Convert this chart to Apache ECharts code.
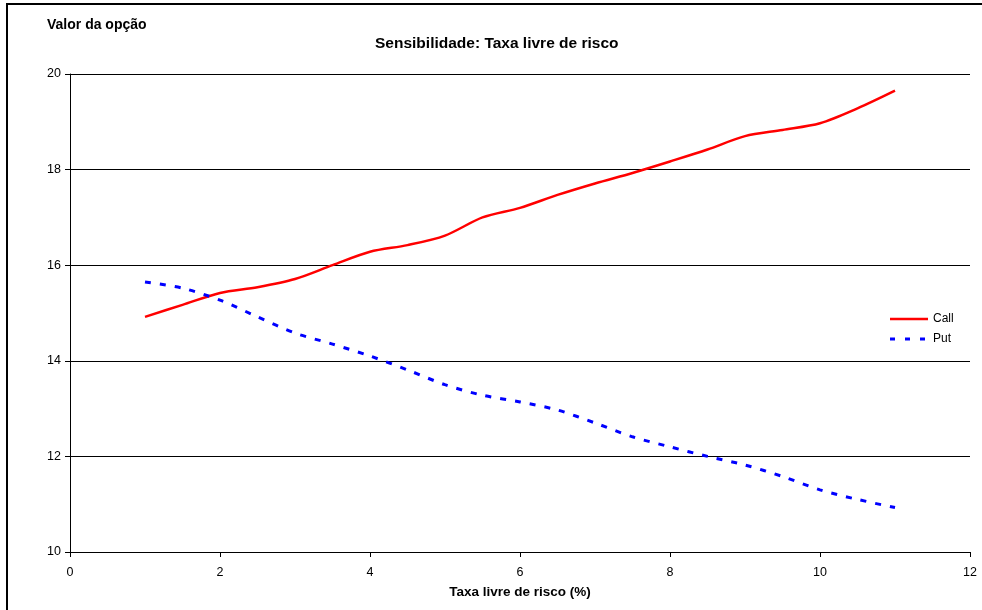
<!DOCTYPE html>
<html>
<head>
<meta charset="utf-8">
<script src="https://cdn.jsdelivr.net/npm/echarts@6/dist/echarts.min.js"></script>
<style>
html,body{margin:0;padding:0;background:#fff;}
#chart{width:982px;height:610px;}
</style>
</head>
<body>
<div id="chart"></div>
<script>
const rates = [1,1.5,2,2.5,3,3.5,4,4.5,5,5.5,6,6.5,7,7.5,8,8.5,9,9.5,10,10.5,11];
const callValues = [14.92,15.17,15.42,15.54,15.71,16.0,16.28,16.42,16.62,17.0,17.2,17.47,17.71,17.93,18.17,18.42,18.7,18.83,18.97,19.28,19.65];
const putValues = [15.65,15.52,15.27,14.92,14.58,14.35,14.1,13.81,13.5,13.28,13.14,12.97,12.7,12.41,12.2,12.0,11.82,11.58,11.3,11.1,10.93];
const xTicks = {min:0, max:12, interval:2};
const yTicks = {min:10, max:20, interval:2};

const font = 'Liberation Sans, Arial, sans-serif';
const callIcon = 'path://M0,0L0,0M38,14L38,14M0,5.75H38V8.25H0Z';
const putIcon = 'path://M0,0L0,0M38,14L38,14M0,5.5H5V8.5H0Z M15,5.5H20V8.5H15Z M30,5.5H35V8.5H30Z';
const chart = echarts.init(document.getElementById('chart'));
chart.setOption({
  animation:false,
  backgroundColor:'#fff',
  textStyle:{fontFamily:font},
  title:{text:'Sensibilidade: Taxa livre de risco', left:370, top:31,
    textStyle:{fontSize:15.5, fontWeight:'bold', color:'#000', fontFamily:font}},
  graphic:[
    {type:'rect', shape:{x:7,y:4,width:1000,height:700}, style:{fill:null, stroke:'#000', lineWidth:2}, silent:true},
    {type:'text', left:47, top:18, style:{text:'Valor da opção', font:'bold 14px '+font, fill:'#000'}}
  ],
  legend:{
    orient:'vertical', left:890, top:312, padding:0, itemWidth:38, itemHeight:14, itemGap:6,
    symbolKeepAspect:false,
    textStyle:{fontSize:12, color:'#000', fontFamily:font},
    data:[{name:'Call', icon:callIcon, itemStyle:{color:'#ff0000'}},
          {name:'Put', icon:putIcon, itemStyle:{color:'#0000ff'}}]
  },
  grid:{left:70, right:12, top:74, bottom:58},
  xAxis:{type:'value', min:xTicks.min, max:xTicks.max, interval:xTicks.interval,
    name:'Taxa livre de risco (%)', nameLocation:'middle', nameGap:33,
    nameTextStyle:{fontSize:13.5, fontWeight:'bold', color:'#000', fontFamily:font},
    axisLine:{lineStyle:{color:'#000', width:1}},
    axisTick:{show:true, length:5, lineStyle:{color:'#000'}},
    axisLabel:{fontSize:12.5, color:'#000', margin:14, fontFamily:font},
    splitLine:{show:false}},
  yAxis:{type:'value', min:yTicks.min, max:yTicks.max, interval:yTicks.interval,
    axisLine:{show:true, lineStyle:{color:'#000', width:1}},
    axisTick:{show:true, length:5, lineStyle:{color:'#000'}},
    axisLabel:{fontSize:12.5, color:'#000', margin:9, fontFamily:font},
    splitLine:{show:true, lineStyle:{color:'#000', width:1}}},
  series:[
    {name:'Call', type:'line', smooth:0.3, showSymbol:false, symbol:'none',
     data:rates.map((r,i)=>[r,callValues[i]]),
     lineStyle:{color:'#ff0000', width:2.5}, itemStyle:{color:'#ff0000'}},
    {name:'Put', type:'line', smooth:0.3, showSymbol:false, symbol:'none',
     data:rates.map((r,i)=>[r,putValues[i]]),
     lineStyle:{color:'#0000ff', width:3, type:[6,9]}, itemStyle:{color:'#0000ff'}}
  ]
});
</script>
</body>
</html>
